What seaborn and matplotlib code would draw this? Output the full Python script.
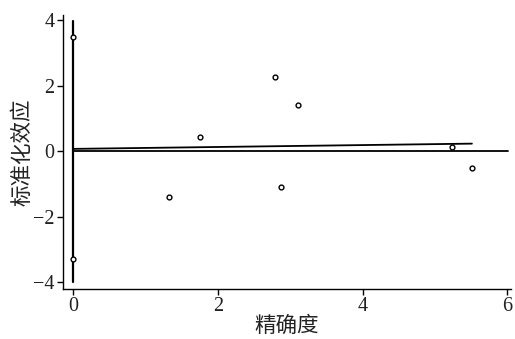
import matplotlib
matplotlib.use("Agg")
import matplotlib.pyplot as plt
import seaborn as sns
import pandas as pd

# precision (x) and standardized effect (y) of each study
precision = [0.0, 0.0, 1.33, 1.75, 2.79, 2.87, 3.11, 5.23, 5.51]
std_effect = [3.48, -3.29, -1.40, 0.44, 2.25, -1.08, 1.42, 0.13, -0.52]

# regression line end points
reg_x = [0.0, 5.51]
reg_y = [0.07, 0.23]

# reference lines
zero_x = [0.0, 6.01]
zero_y = [0.0, 0.0]
vert_x = [0.0, 0.0]
vert_y = [-4.0, 3.97]

xticks = [0, 2, 4, 6]
yticks = [-4, -2, 0, 2, 4]

sns.set_style("ticks")
plt.rcParams['font.family'] = ['Liberation Serif', 'Noto Sans CJK SC', 'DejaVu Sans']

fig = plt.figure(figsize=(5.15, 3.39), dpi=100)
ax = fig.add_axes([63 / 515, 50 / 339, 448 / 515, 274 / 339])

df = pd.DataFrame({'x': precision, 'y': std_effect})

ax.plot(vert_x, vert_y, color='black', lw=1.6, zorder=1)
ax.plot(zero_x, zero_y, color='black', lw=1.3, zorder=1)
sns.lineplot(x=reg_x, y=reg_y, color='black', lw=1.3, ax=ax, zorder=1)
sns.scatterplot(data=df, x='x', y='y', ax=ax, marker='o', s=12,
                facecolor='white', edgecolor='black', linewidth=1.0, zorder=2)

ax.set_xlim(-0.14, 6.05)
ax.set_ylim(-4.2, 4.15)
ax.set_xticks(xticks)
ax.set_yticks(yticks)
ax.set_yticklabels(['\u22124', '\u22122', '0', '2', '4'])
ax.tick_params(labelsize=14.5, length=4, width=1, color='black', labelcolor='#222222', pad=2)
for s in ['top', 'right']:
    ax.spines[s].set_visible(False)
for s in ['left', 'bottom']:
    ax.spines[s].set_linewidth(1.0)
    ax.spines[s].set_color('black')

ax.set_xlabel('精确度', fontsize=15.5, family=['Noto Sans CJK SC'], color='#222222', labelpad=-1)
ax.set_ylabel('标准化效应', fontsize=15.5, family=['Noto Sans CJK SC'], color='#222222', labelpad=0)

fig.savefig('out.png', dpi=100)
